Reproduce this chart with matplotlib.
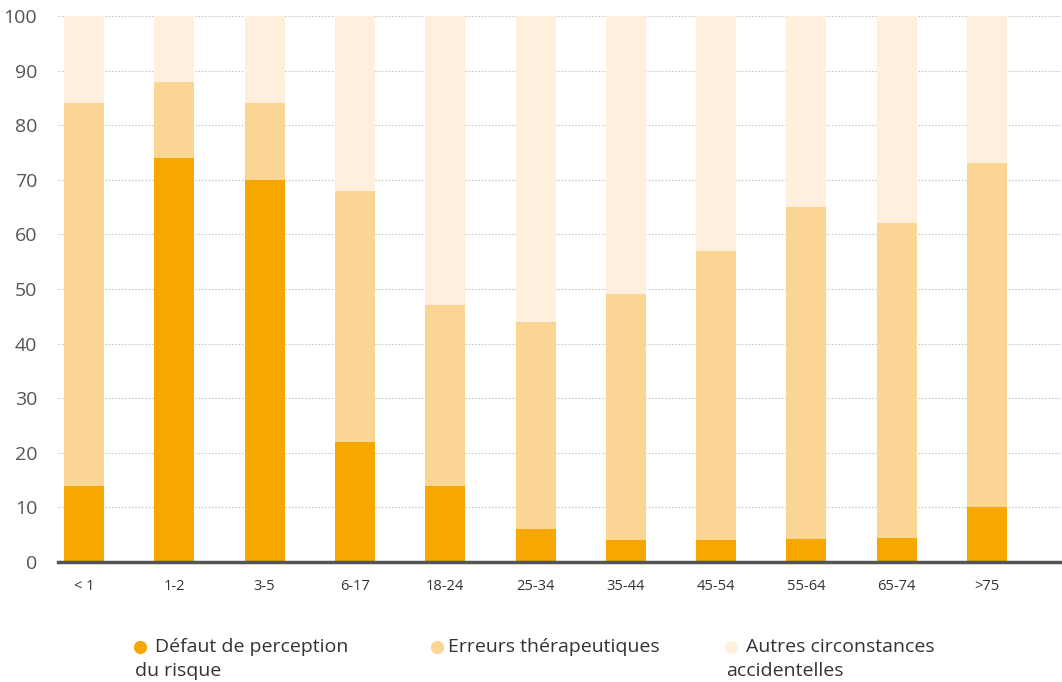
import matplotlib
matplotlib.use("Agg")
import matplotlib.pyplot as plt
from matplotlib.lines import Line2D
import numpy as np

plt.rcParams['font.family'] = ['Open Sans', 'DejaVu Sans']

categories = ["< 1", "1-2", "3-5", "6-17", "18-24", "25-34", "35-44", "45-54", "55-64", "65-74", ">75"]
defaut = [14, 74, 70, 22, 14, 6, 4, 4, 4.2, 4.4, 10]
erreurs_top = [84, 88, 84, 68, 47, 44, 49, 57, 65, 62, 73]  # cumulative top of second series
erreurs = [t - d for t, d in zip(erreurs_top, defaut)]
autres = [100 - t for t in erreurs_top]
series_names = ["Défaut de perception\ndu risque", "Erreurs thérapeutiques", "Autres circonstances\naccidentelles"]
colors = ["#F6A800", "#FBD594", "#FEF0DC"]
yticks = [0, 10, 20, 30, 40, 50, 60, 70, 80, 90, 100]

fig = plt.figure(figsize=(10.62, 6.82), dpi=100)
ax = fig.add_axes([0.0546, 0.176, 0.9454, 0.8005])

x = np.arange(len(categories))
w = 0.443
ax.bar(x, defaut, width=w, color=colors[0], zorder=3)
ax.bar(x, erreurs, width=w, bottom=defaut, color=colors[1], zorder=3)
ax.bar(x, autres, width=w, bottom=erreurs_top, color=colors[2], zorder=3)

ax.set_xlim(-0.288, 10.83)
ax.set_ylim(0, 100)
ax.set_yticks(yticks)
ax.set_yticklabels([str(t) for t in yticks], fontsize=14, color="#555555")
ax.set_xticks(x)
ax.set_xticklabels(categories, fontsize=10.5, color="#333333")
ax.tick_params(axis='both', length=0)
ax.tick_params(axis='x', pad=12)
ax.tick_params(axis='y', pad=15)
ax.grid(axis='y', color="#c8c8c8", linestyle=(0, (1.5, 1.5)), linewidth=0.8, zorder=0)
for s in ["top", "right", "left"]:
    ax.spines[s].set_visible(False)
ax.spines["bottom"].set_color("#555555")
ax.spines["bottom"].set_linewidth(2.5)
ax.spines["bottom"].set_zorder(4)

# legend
W, H = 1062, 682
leg = [(140, 155, 135), (437, 448, None), (731, 746, 726)]
for (mx, tx, lx2), name, col in zip(leg, series_names, colors):
    parts = name.split("\n")
    fig.add_artist(Line2D([mx / W], [1 - 647 / H], marker='o', markersize=8.5,
                          color=col, linestyle='none', transform=fig.transFigure))
    fig.text(tx / W, 1 - 647 / H, parts[0], fontsize=14, color="#333333", va='center', ha='left')
    if len(parts) > 1:
        fig.text(lx2 / W, 1 - 671 / H, parts[1], fontsize=14, color="#333333", va='center', ha='left')

fig.savefig("out.png", dpi=100)
